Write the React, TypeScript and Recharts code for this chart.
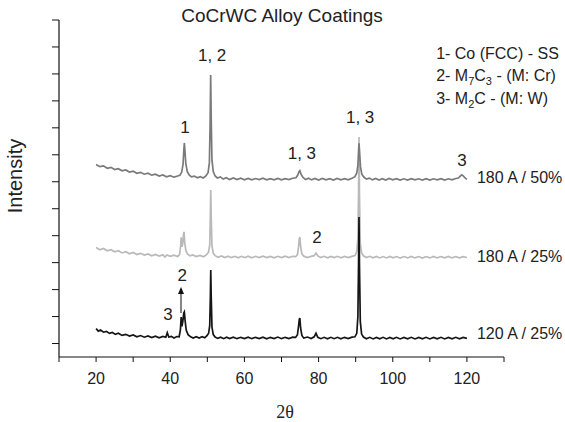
import React from 'react';
import { LineChart, Line, XAxis, YAxis, ReferenceDot, ReferenceLine } from 'recharts';

// 2θ / intensity pairs (traces are already stacked)
const coating180at50: [number, number][] = [
  [20, 1428], [21, 1412], [22, 1418], [23, 1400], [24, 1407], [25, 1391], [26, 1397], [27, 1381], [28, 1388],
  [29, 1372], [30, 1378], [31, 1363], [32, 1370], [33, 1356], [34, 1363], [35, 1349], [36, 1356], [37, 1342],
  [38, 1350], [39, 1337], [40, 1345], [41, 1334], [42, 1343], [42.6, 1348], [43.1, 1372], [43.45, 1430],
  [43.65, 1530], [43.8, 1588], [43.95, 1535], [44.2, 1435], [44.6, 1375], [45.1, 1350], [45.7, 1336],
  [46.5, 1342], [47.3, 1329], [48.1, 1338], [48.9, 1328], [49.6, 1343], [50.2, 1368], [50.55, 1440],
  [50.75, 1720], [50.9, 2092], [51.05, 1760], [51.25, 1460], [51.6, 1375], [52.1, 1343], [52.7, 1328],
  [53.5, 1336], [54.3, 1320], [55.1, 1330], [56, 1317], [57, 1328], [58, 1316], [59, 1326], [60, 1315],
  [61, 1325], [62, 1314], [63, 1324], [64, 1316], [65, 1326], [66, 1314], [67, 1323], [68, 1315], [69, 1325],
  [70, 1314], [71, 1323], [72, 1316], [73, 1326], [73.9, 1330], [74.4, 1350], [74.75, 1376], [74.95, 1382],
  [75.3, 1354], [75.8, 1332], [76.5, 1316], [77.3, 1326], [78.1, 1314], [79, 1325], [80, 1313], [81, 1324],
  [82, 1315], [83, 1323], [84, 1313], [85, 1324], [86, 1315], [87, 1323], [88, 1314], [89, 1326], [89.8, 1338],
  [90.3, 1365], [90.6, 1420], [90.78, 1530], [90.9, 1585], [91.05, 1525], [91.3, 1412], [91.65, 1356],
  [92.2, 1335], [92.9, 1320], [93.7, 1327], [94.5, 1314], [95.4, 1324], [96.3, 1313], [97.2, 1323], [98.1, 1313],
  [99, 1324], [100, 1314], [101, 1323], [102, 1312], [103, 1322], [104, 1313], [105, 1323], [106, 1314],
  [107, 1322], [108, 1312], [109, 1323], [110, 1313], [111, 1322], [112, 1314], [113, 1323], [114, 1313],
  [115, 1322], [116, 1314], [117, 1324], [117.7, 1328], [118.2, 1342], [118.6, 1352], [119, 1343],
  [119.5, 1328], [120, 1318],
];

const coating180at25: [number, number][] = [
  [20, 812], [21, 796], [22, 805], [23, 788], [24, 796], [25, 780], [26, 788], [27, 772], [28, 781], [29, 766],
  [30, 775], [31, 760], [32, 769], [33, 756], [34, 765], [35, 751], [36, 761], [37, 749], [38, 758], [38.6, 742],
  [39.1, 757], [40, 747], [41, 756], [42, 746], [42.5, 760], [42.8, 822], [42.95, 888], [43.15, 818],
  [43.35, 838], [43.58, 912], [43.72, 928], [43.9, 852], [44.2, 790], [44.7, 762], [45.3, 750], [46.1, 757],
  [47, 745], [48, 754], [49, 744], [49.7, 757], [50.3, 776], [50.65, 832], [50.82, 1060], [50.92, 1239],
  [51.05, 1030], [51.25, 822], [51.6, 770], [52.1, 752], [52.9, 740], [53.8, 750], [54.7, 738], [55.6, 748],
  [56.5, 737], [57.4, 747], [58.3, 736], [59.2, 747], [60.1, 737], [61, 748], [62, 736], [63, 747], [64, 737],
  [65, 748], [66, 737], [67, 746], [68, 736], [69, 747], [70, 737], [71, 748], [72, 738], [73, 747], [73.8, 744],
  [74.3, 760], [74.6, 815], [74.8, 880], [74.95, 890], [75.15, 822], [75.5, 765], [76, 748], [77, 738],
  [78, 747], [78.8, 752], [79.3, 772], [79.8, 750], [80.6, 738], [81.5, 747], [82.4, 736], [83.3, 746],
  [84.2, 737], [85.1, 747], [86, 736], [87, 746], [88, 737], [89, 746], [89.8, 752], [90.3, 782], [90.6, 880],
  [90.78, 1220], [90.9, 1632], [91.02, 1210], [91.25, 840], [91.6, 772], [92.1, 751], [92.9, 738], [93.8, 747],
  [94.7, 736], [95.6, 746], [96.5, 735], [97.4, 745], [98.3, 735], [99.2, 746], [100.1, 736], [101, 745],
  [102, 734], [103, 745], [104, 735], [105, 746], [106, 735], [107, 745], [108, 734], [109, 745], [110, 735],
  [111, 746], [112, 735], [113, 745], [114, 736], [115, 746], [116, 735], [117, 745], [118, 736], [119, 745],
  [120, 738],
];

const coating120at25: [number, number][] = [
  [20, 210], [20.6, 192], [21.2, 200], [22, 184], [22.8, 190], [23.6, 175], [24.4, 182], [25.2, 168], [26, 176],
  [27, 160], [28, 168], [29, 155], [30, 164], [31, 150], [32, 159], [33, 147], [34, 156], [35, 144], [36, 154],
  [37, 142], [38, 152], [38.8, 146], [39.2, 180], [39.6, 148], [40.3, 153], [41, 141], [41.8, 152], [42.4, 150],
  [42.75, 205], [42.95, 297], [43.15, 228], [43.38, 262], [43.65, 326], [43.8, 334], [44.0, 272], [44.3, 200],
  [44.8, 166], [45.5, 150], [46.2, 141], [47, 151], [47.8, 140], [48.6, 150], [49.3, 142], [49.9, 158],
  [50.35, 176], [50.65, 235], [50.82, 450], [50.92, 646], [51.05, 445], [51.25, 222], [51.6, 166], [52.1, 148],
  [52.8, 138], [53.6, 147], [54.4, 136], [55.2, 147], [56, 137], [57, 147], [58, 136], [59, 146], [60, 137],
  [61, 147], [62, 136], [63, 146], [64, 137], [65, 147], [66, 135], [67, 146], [68, 137], [69, 148], [70, 136],
  [71, 146], [72, 137], [73, 147], [73.8, 145], [74.3, 165], [74.6, 230], [74.8, 280], [74.95, 289],
  [75.15, 215], [75.5, 160], [76, 140], [77, 148], [78, 137], [78.8, 150], [79.3, 176], [79.8, 146],
  [80.6, 136], [81.5, 146], [82.4, 135], [83.3, 146], [84.2, 136], [85.1, 146], [86, 135], [87, 146],
  [88, 137], [89, 147], [89.8, 150], [90.3, 176], [90.6, 300], [90.78, 700], [90.9, 1039], [91.02, 690],
  [91.25, 262], [91.6, 170], [92.1, 148], [92.9, 135], [93.8, 146], [94.7, 134], [95.6, 145], [96.5, 135],
  [97.4, 146], [98.3, 134], [99.2, 145], [100.1, 135], [101, 146], [102, 134], [103, 145], [104, 135],
  [105, 146], [106, 134], [107, 145], [108, 135], [109, 146], [110, 134], [111, 145], [112, 135], [113, 146],
  [114, 134], [115, 145], [116, 135], [117, 146], [118, 135], [119, 145], [120, 138],
];

const twoThetaTicks = [10, 20, 30, 40, 50, 60, 70, 80, 90, 100, 110, 120, 130];
const labelledTicks = [20, 40, 60, 80, 100, 120];
const intensityTicks = [
  0, 100, 200, 300, 400, 500, 600, 700, 800, 900, 1000, 1100, 1200,
  1300, 1400, 1500, 1600, 1700, 1800, 1900, 2000, 2100, 2200, 2300, 2400, 2500,
];

const sampleNames = ['180 A / 50%', '180 A / 25%', '120 A / 25%'];
const sampleLevels = [1335, 742, 178];

// peak assignments: label, 2θ, intensity where the number sits
const peakLabels = [
  { text: '1, 2', t: 51.3, v: 2240 },
  { text: '1', t: 44.0, v: 1706 },
  { text: '1, 3', t: 75.5, v: 1506 },
  { text: '1, 3', t: 91.2, v: 1773 },
  { text: '3', t: 118.7, v: 1461 },
  { text: '2', t: 79.6, v: 890 },
  { text: '2', t: 43.2, v: 608 },
  { text: '3', t: 39.4, v: 312 },
];

// phase key, subscripts marked with sub
const phaseKey = [
  [{ s: '1- Co (FCC) - SS' }],
  [{ s: '2- M' }, { s: '7', sub: true }, { s: 'C' }, { s: '3', sub: true }, { s: ' - (M: Cr)' }],
  [{ s: '3- M' }, { s: '2', sub: true }, { s: 'C - (M: W)' }],
];
const phaseKeyLevels = [2255, 2092, 1921];

const FONT = 'Arial, "Liberation Sans", sans-serif';
const TEXT = '#222';

const toPoints = (arr: [number, number][]) => arr.map(([t, v]) => ({ t, v }));

const YTick = (props: any) => {
  const { x, y, payload } = props;
  const major = (payload.value / 100) % 2 === 1;
  const len = major ? 7 : 4;
  return <line x1={x - len} x2={x} y1={y} y2={y} stroke="#111" strokeWidth={1} />;
};

const XTick = (props: any) => {
  const { x, y, payload } = props;
  const labelled = labelledTicks.includes(payload.value);
  return (
    <g>
      <line x1={x} x2={x} y1={y} y2={y + 5} stroke="#111" strokeWidth={1} />
      {labelled && (
        <text x={x} y={y + 27} textAnchor="middle" fontSize={16} fontFamily={FONT} fill={TEXT}>
          {payload.value}
        </text>
      )}
    </g>
  );
};

const Arrow = (props: any) => {
  const { x1, y1, x2, y2 } = props;
  const top = Math.min(y1, y2);
  const bottom = Math.max(y1, y2);
  return (
    <g>
      <line x1={x1} x2={x2} y1={bottom} y2={top + 6} stroke="#333" strokeWidth={1.2} />
      <polygon points={`${x1 - 3},${top + 7} ${x1 + 3},${top + 7} ${x1},${top}`} fill="#111" />
    </g>
  );
};

export default function App() {
  return (
    <div style={{ position: 'absolute', left: 0, top: 0, width: 565, height: 422, background: '#fff' }}>
      <LineChart width={565} height={422} margin={{ top: 20, right: 61, bottom: 35, left: 49 }}>
        <XAxis
          type="number"
          dataKey="t"
          domain={[10, 130]}
          ticks={twoThetaTicks}
          tick={<XTick />}
          tickLine={false}
          tickSize={0}
          tickMargin={0}
          height={30}
          axisLine={{ stroke: '#111', strokeWidth: 1.2 }}
          allowDataOverflow
        />
        <YAxis
          type="number"
          domain={[0, 2500]}
          ticks={intensityTicks}
          tick={<YTick />}
          tickLine={false}
          tickSize={0}
          tickMargin={0}
          width={10}
          axisLine={{ stroke: '#111', strokeWidth: 1.2 }}
          allowDataOverflow
        />
        <Line data={toPoints(coating180at25)} dataKey="v" type="linear" stroke="#b9b9b9" strokeWidth={1.7} dot={false} isAnimationActive={false} />
        <Line data={toPoints(coating180at50)} dataKey="v" type="linear" stroke="#7a7a7a" strokeWidth={1.7} dot={false} isAnimationActive={false} />
        <Line data={toPoints(coating120at25)} dataKey="v" type="linear" stroke="#151515" strokeWidth={1.7} dot={false} isAnimationActive={false} />

        <ReferenceLine segment={[{ x: 42.9, y: 326 }, { x: 42.9, y: 519 }]} shape={<Arrow />} />

        {peakLabels.map((p, i) => (
          <ReferenceDot
            key={'pk' + i}
            x={p.t}
            y={p.v}
            r={0}
            fill="none"
            stroke="none"
            label={(lp: any) => (
              <text x={lp.viewBox.x} y={lp.viewBox.y} textAnchor="middle" dominantBaseline="central" fontSize={17} fontFamily={FONT} fill={TEXT}>
                {p.text}
              </text>
            )}
          />
        ))}

        {sampleNames.map((name, i) => (
          <ReferenceDot
            key={'sm' + i}
            x={122.7}
            y={sampleLevels[i]}
            r={0}
            fill="none"
            stroke="none"
            label={(lp: any) => (
              <text x={lp.viewBox.x} y={lp.viewBox.y} textAnchor="start" dominantBaseline="central" fontSize={16} fontFamily={FONT} fill={TEXT}>
                {name}
              </text>
            )}
          />
        ))}

        {phaseKey.map((parts, i) => (
          <ReferenceDot
            key={'ph' + i}
            x={111.7}
            y={phaseKeyLevels[i]}
            r={0}
            fill="none"
            stroke="none"
            label={(lp: any) => (
              <text x={lp.viewBox.x} y={lp.viewBox.y + 6} textAnchor="start" fontSize={16} fontFamily={FONT} fill={TEXT}>
                {parts.map((pt: any, j: number) =>
                  pt.sub ? (
                    <tspan key={j} fontSize={11} dy={4}>{pt.s}</tspan>
                  ) : (
                    <tspan key={j} dy={j > 0 && parts[j - 1].sub ? -4 : 0}>{pt.s}</tspan>
                  )
                )}
              </text>
            )}
          />
        ))}
      </LineChart>
      <svg width={565} height={422} style={{ position: 'absolute', left: 0, top: 0, pointerEvents: 'none' }}>
        <text x={282} y={22} textAnchor="middle" fontSize={19} fontFamily={FONT} fill={TEXT}>
          CoCrWC Alloy Coatings
        </text>
        <text x={22} y={176} textAnchor="middle" fontSize={20} fontFamily={FONT} fill={TEXT} transform="rotate(-90 22 176)">
          Intensity
        </text>
        <text x={285} y={418} textAnchor="middle" fontSize={18} fontFamily='"Times New Roman", "Liberation Serif", serif' fill={TEXT}>
          2θ
        </text>
      </svg>
    </div>
  );
}
